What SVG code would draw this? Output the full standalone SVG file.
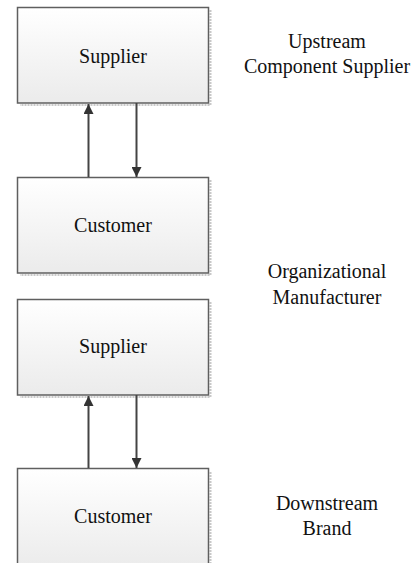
<svg xmlns="http://www.w3.org/2000/svg" width="417" height="563" viewBox="0 0 417 563">
<style>
.box{fill:url(#g);stroke:#5f5f5f;stroke-width:1.5}
.shadow{fill:none;stroke:#c8c8c8;stroke-width:2;stroke-dasharray:2 1}
.t{font-family:'Liberation Serif','DejaVu Serif',serif;font-size:20px;fill:#111;text-anchor:middle}
.c{stroke:#444;stroke-width:2;fill:none;marker-end:url(#ah)}
</style>
<defs>
<linearGradient id="g" x1="0" y1="0" x2="0" y2="1">
<stop offset="0" stop-color="#ffffff"/>
<stop offset="1" stop-color="#ebebeb"/>
</linearGradient>
<marker id="ah" viewBox="0 0 10 10" refX="10" refY="5" markerWidth="10" markerHeight="10" markerUnits="userSpaceOnUse" orient="auto">
<path d="M0,0 L10,5 L0,10 Z" fill="#333"/>
</marker>
</defs>
<g id="n1">
<path class="shadow" d="M210.5,10 V105 H20"/>
<rect class="box" x="17.5" y="7.5" width="191" height="95.5"/>
<text class="t" x="113" y="63">Supplier</text>
</g>
<g id="n2">
<path class="shadow" d="M210.5,180 V275 H20"/>
<rect class="box" x="17.5" y="177.5" width="191" height="95.5"/>
<text class="t" x="113" y="232">Customer</text>
</g>
<g id="n3">
<path class="shadow" d="M210.5,302 V397 H20"/>
<rect class="box" x="17.5" y="299.5" width="191" height="95.5"/>
<text class="t" x="113" y="353">Supplier</text>
</g>
<g id="n4">
<path class="shadow" d="M210.5,472 V567"/>
<rect class="box" x="17.5" y="468.5" width="191" height="100"/>
<text class="t" x="113" y="523">Customer</text>
</g>
<g id="labels">
<text class="t" x="327" y="48">Upstream</text>
<text class="t" x="327" y="73">Component Supplier</text>
<text class="t" x="327" y="278">Organizational</text>
<text class="t" x="327" y="304">Manufacturer</text>
<text class="t" x="327" y="510">Downstream</text>
<text class="t" x="327" y="535">Brand</text>
</g>
<g id="connectors">
<line class="c" x1="88.5" y1="177" x2="88.5" y2="104"/>
<line class="c" x1="136.5" y1="103" x2="136.5" y2="177"/>
<line class="c" x1="88.5" y1="468" x2="88.5" y2="396"/>
<line class="c" x1="136.5" y1="395" x2="136.5" y2="468"/>
</g>
</svg>
